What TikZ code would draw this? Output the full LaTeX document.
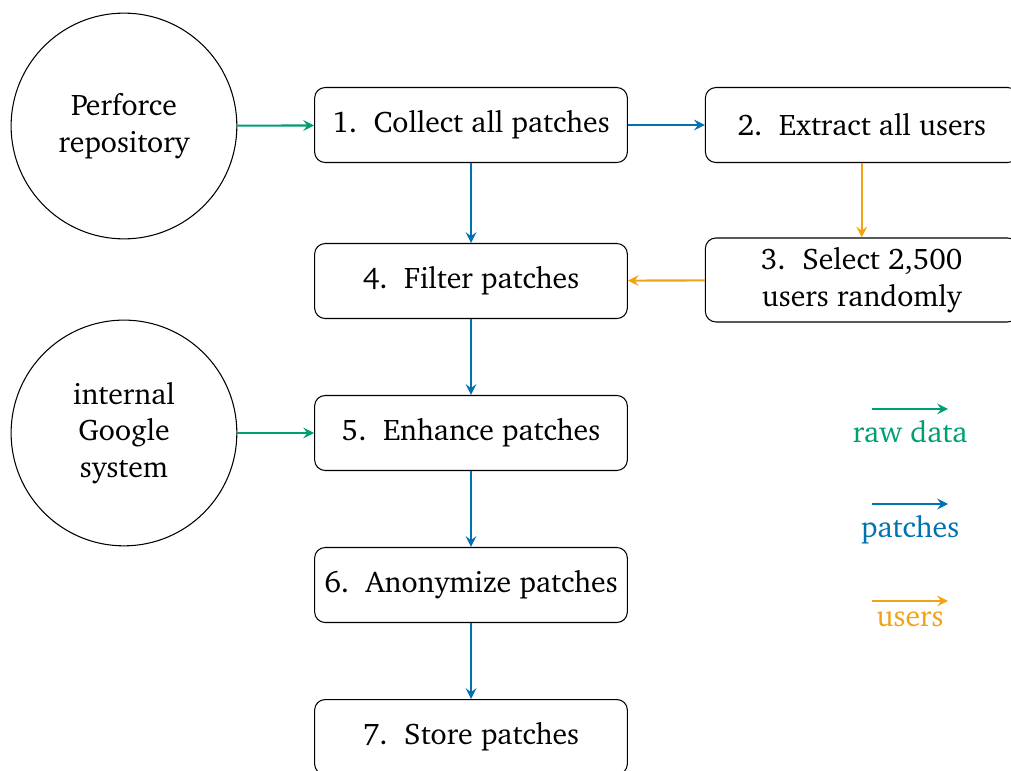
\documentclass[tikz,border=0pt]{standalone}
\usepackage[T1]{fontenc}
\usepackage{charter}
\usetikzlibrary{arrows}
\definecolor{cgreen}{RGB}{0,158,115}
\definecolor{cblue}{RGB}{0,114,178}
\definecolor{corange}{RGB}{240,163,20}
\begin{document}
\begin{tikzpicture}[font=\fontsize{11.3}{13.8}\selectfont]
        \tikzstyle{circ}=[circle, draw, inner sep=0pt, minimum width=3.01cm, align=center]
        \tikzstyle{box}=[rectangle, draw, rounded corners, minimum width=4.17cm, minimum height=1cm, inner xsep=3pt, align=center]
        \tikzstyle{flow}=[-stealth, thick]

        \useasboundingbox (0,0) rectangle (13.48,-10.28);

        \node[circ] (repo) at (1.653,-1.68) {Perforce\\repository};
        \node[circ] (google) at (1.653,-5.773) {internal\\Google\\system};

        \node[box] (collect) at (6.28,-1.667) {1.~~Collect all patches};
        \node[box] (extract) at (11.49,-1.667) {2.~~Extract all users};
        \node[box, minimum height=1.12cm] (select) at (11.49,-3.733) {3.~~Select 2,500\\users randomly};
        \node[box] (filter) at (6.28,-3.747) {4.~~Filter patches};
        \node[box] (enhance) at (6.28,-5.773) {5.~~Enhance patches};
        \node[box] (anon) at (6.28,-7.8) {6.~~Anonymize patches};
        \node[box] (store) at (6.28,-9.827) {7.~~Store patches};

        \draw[flow, cgreen] (repo) -- (collect);
        \draw[flow, cgreen] (google) -- (enhance);
        \draw[flow, cblue] (collect) -- (extract);
        \draw[flow, cblue] (collect) -- (filter);
        \draw[flow, corange] (extract) -- (select);
        \draw[flow, corange] (select) -- (filter);
        \draw[flow, cblue] (filter) -- (enhance);
        \draw[flow, cblue] (enhance) -- (anon);
        \draw[flow, cblue] (anon) -- (store);

        % legend
        \coordinate (g1) at (11.63,-5.453); \coordinate (g2) at (12.64,-5.453);
        \coordinate (b1) at (11.63,-6.72);  \coordinate (b2) at (12.64,-6.72);
        \coordinate (o1) at (11.63,-8.013); \coordinate (o2) at (12.64,-8.013);
        \draw[flow, cgreen] (g1) -- (g2);
        \draw[flow, cblue] (b1) -- (b2);
        \draw[flow, corange] (o1) -- (o2);
        \node[below, cgreen, inner sep=4pt] (lg) at (12.135,-5.453) {raw data};
        \node[below, cblue, inner sep=4pt] (lb) at (12.135,-6.72) {patches};
        \node[below, corange, inner sep=4pt] (lo) at (12.135,-8.013) {users};
    \end{tikzpicture}
\end{document}
